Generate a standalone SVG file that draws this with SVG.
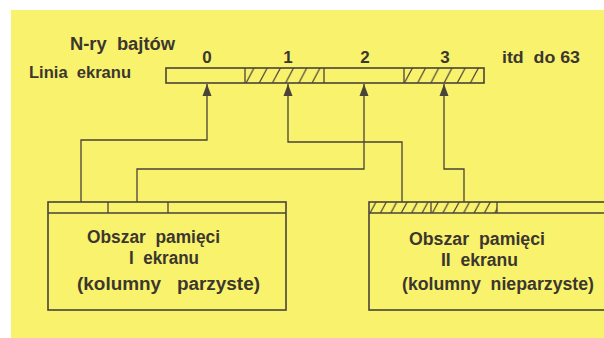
<svg xmlns="http://www.w3.org/2000/svg" width="604" height="338" viewBox="0 0 604 338">
<style>
  .bg { fill: #F9F26C; }
  .box { fill: none; stroke: #4a4339; stroke-width: 1.6; }
  .thin { fill: none; stroke: #4a4339; stroke-width: 1.3; }
  .conn { fill: none; stroke: #4a4339; stroke-width: 1.3; }
  .t { font-family: "Liberation Sans", Arial, sans-serif; font-weight: bold; fill: #3b372f; white-space: pre; }
  .lbl { font-size: 17px; }
  .num { font-size: 17px; text-anchor: middle; }
  .body { font-size: 18px; }
</style>
<defs>
  <pattern id="hatchBar" patternUnits="userSpaceOnUse" x="245" y="68" width="13.2" height="15">
    <path d="M1,15 L9,0" stroke="#4a4339" stroke-width="1.2" fill="none"/>
  </pattern>
  <pattern id="hatchStrip" patternUnits="userSpaceOnUse" x="369" y="202" width="10.4" height="11">
    <path d="M1,11 L7,0" stroke="#4a4339" stroke-width="1.2" fill="none"/>
  </pattern>
  <marker id="arrow" markerUnits="userSpaceOnUse" markerWidth="13" markerHeight="10" refX="12" refY="5" orient="auto" viewBox="0 0 13 10">
    <path d="M0,0.5 L12,5 L0,9.5 z" fill="#4a4339"/>
  </marker>
</defs>
<rect x="0" y="0" width="604" height="338" fill="#ffffff"/>
<rect class="bg" x="11" y="10" width="593" height="328"/>

<g id="label-bytes">
  <text class="t body" x="70" y="50" textLength="105" lengthAdjust="spacingAndGlyphs">N-ry  bajtów</text>
</g>
<g id="label-line">
  <text class="t lbl" x="29" y="78" textLength="102" lengthAdjust="spacingAndGlyphs">Linia  ekranu</text>
</g>
<g id="label-etc">
  <text class="t lbl" x="502" y="63" textLength="78" lengthAdjust="spacingAndGlyphs">itd  do 63</text>
</g>

<g id="screen-line">
  <rect x="245" y="68" width="79" height="15" fill="url(#hatchBar)"/>
  <rect x="404" y="68" width="80" height="15" fill="url(#hatchBar)"/>
  <rect class="box" x="166" y="68" width="318" height="15"/>
  <line class="thin" x1="245" y1="68" x2="245" y2="83"/>
  <line class="thin" x1="324" y1="68" x2="324" y2="83"/>
  <line class="thin" x1="404" y1="68" x2="404" y2="83"/>
  <text class="t num" x="207" y="63">0</text>
  <text class="t num" x="288" y="63">1</text>
  <text class="t num" x="365" y="63">2</text>
  <text class="t num" x="445" y="63">3</text>
</g>

<g id="memory-1">
  <rect class="box" x="48" y="202" width="238" height="108"/>
  <line class="thin" x1="48" y1="213" x2="286" y2="213"/>
  <line class="thin" x1="108" y1="202" x2="108" y2="213"/>
  <line class="thin" x1="168" y1="202" x2="168" y2="213"/>
  <text class="t body" x="87" y="243" textLength="133" lengthAdjust="spacingAndGlyphs">Obszar  pamięci</text>
  <text class="t body" x="129" y="264" textLength="70" lengthAdjust="spacingAndGlyphs">I  ekranu</text>
  <text class="t body" x="77" y="290" textLength="183" lengthAdjust="spacingAndGlyphs">(kolumny   parzyste)</text>
</g>

<g id="memory-2">
  <rect x="369" y="202" width="128" height="11" fill="url(#hatchStrip)"/>
  <rect class="box" x="369" y="202" width="260" height="108"/>
  <line class="thin" x1="369" y1="213" x2="610" y2="213"/>
  <line class="thin" x1="431" y1="202" x2="431" y2="213"/>
  <line class="thin" x1="497" y1="202" x2="497" y2="213"/>
  <text class="t body" x="409" y="245" textLength="136" lengthAdjust="spacingAndGlyphs">Obszar  pamięci</text>
  <text class="t body" x="441" y="266" textLength="77" lengthAdjust="spacingAndGlyphs">II  ekranu</text>
  <text class="t body" x="402" y="290" textLength="192" lengthAdjust="spacingAndGlyphs">(kolumny  nieparzyste)</text>
</g>

<g id="connectors">
  <path class="conn" d="M81,202 V140 H207 V84" marker-end="url(#arrow)"/>
  <path class="conn" d="M137,202 V169 H364 V84" marker-end="url(#arrow)"/>
  <path class="conn" d="M402,202 V142 H288 V84" marker-end="url(#arrow)"/>
  <path class="conn" d="M464,202 V169 H444 V84" marker-end="url(#arrow)"/>
</g>
</svg>
